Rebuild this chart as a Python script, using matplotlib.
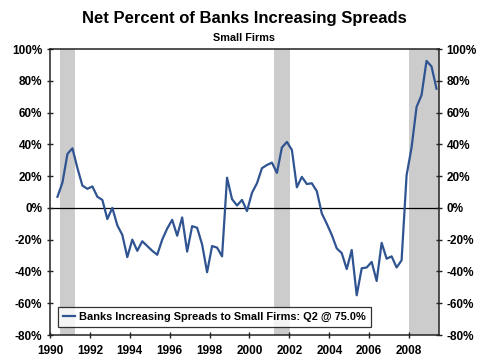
import numpy as np
import matplotlib

matplotlib.use("Agg")
import matplotlib.pyplot as plt

plt.rcParams["font.family"] = ["Liberation Sans", "DejaVu Sans"]

# quarterly survey readings, 1990 Q2 .. 2009 Q2 (net percent)
START_YEAR = 1990
START_QUARTER = 2
spreads = [
    7, 16, 34,
    37.5, 25, 14, 12,
    13.5, 7, 5, -7,
    0, -11, -17, -31,
    -20, -27, -21, -24,
    -27, -29.5, -20, -13,
    -7.5, -17.5, -6, -27.5,
    -11.5, -12.5, -23, -40.5,
    -24, -25, -30.5, 19,
    5.5, 1.5, 5, -2,
    9.5, 15.5, 25, 27,
    28.5, 22, 38, 41.5,
    36.5, 13, 19.5, 15,
    15.5, 10.5, -3.5, -10,
    -17, -25.5, -28.5, -38.5,
    -26.5, -55, -38, -37.5,
    -34, -46, -22, -32,
    -30.5, -37.5, -33, 20.5,
    38, 63.5, 71, 92.5,
    89, 75,
]
recessions = [(1990.5, 1991.27), (2001.25, 2002.02), (2007.98, 2009.6)]
year_ticks = list(range(1990, 2009, 2))
pct_ticks = list(range(-80, 101, 20))

title = "Net Percent of Banks Increasing Spreads"
subtitle = "Small Firms"
legend_label = "Banks Increasing Spreads to Small Firms: Q2 @ 75.0%"

LINE_COLOR = "#2f5491"
SHADE_COLOR = "#cccccc"


def quarter_positions(n: int) -> np.ndarray:
    """Place each quarterly reading at the middle of its quarter."""
    idx = np.arange(n) + (START_QUARTER - 1)
    return START_YEAR + (idx + 0.5) / 4.0


def main() -> None:
    fig = plt.figure(figsize=(4.81, 3.61), dpi=100)
    ax = fig.add_axes([50 / 481, 1 - 335 / 361, 389 / 481, 286 / 361])

    for start, end in recessions:
        ax.axvspan(start, end, color=SHADE_COLOR, lw=0, zorder=0)

    ax.axhline(0, color="black", lw=0.9, zorder=1)

    x = quarter_positions(len(spreads))
    ax.plot(x, spreads, color=LINE_COLOR, lw=1.6, zorder=2, label=legend_label)

    ax.set_xlim(1990, 2009.5)
    ax.set_ylim(-80, 100)
    ax.set_xticks(year_ticks)
    ax.set_yticks(pct_ticks)
    ax.set_yticklabels([f"{v}%" for v in pct_ticks])

    for side in ax.spines.values():
        side.set_linewidth(1.1)
        side.set_color("#222222")

    ax.tick_params(axis="both", direction="inout", length=5, width=1.0,
                   labelsize=8.5, color="#222222")
    ax.tick_params(axis="y", right=True, labelright=True, pad=3)
    ax.tick_params(axis="x", pad=5)
    for lab in ax.get_xticklabels() + ax.get_yticklabels():
        lab.set_fontweight("bold")

    leg = ax.legend(loc="lower left", bbox_to_anchor=(0.02, 0.028),
                    borderaxespad=0, frameon=True, fancybox=False,
                    handlelength=1.1, handletextpad=0.4, borderpad=0.45,
                    prop={"size": 7.9, "weight": "bold"})
    leg.get_frame().set_edgecolor("black")
    leg.get_frame().set_linewidth(0.9)
    leg.set_zorder(5)

    fig.text(244.5 / 481, 1 - 19 / 361, title, ha="center", va="center",
             fontsize=12, fontweight="bold")
    fig.text(244.5 / 481, 1 - 38 / 361, subtitle, ha="center", va="center",
             fontsize=7.8, fontweight="bold")

    fig.savefig("out.png", dpi=100)
    plt.close(fig)


if __name__ == "__main__":
    main()
